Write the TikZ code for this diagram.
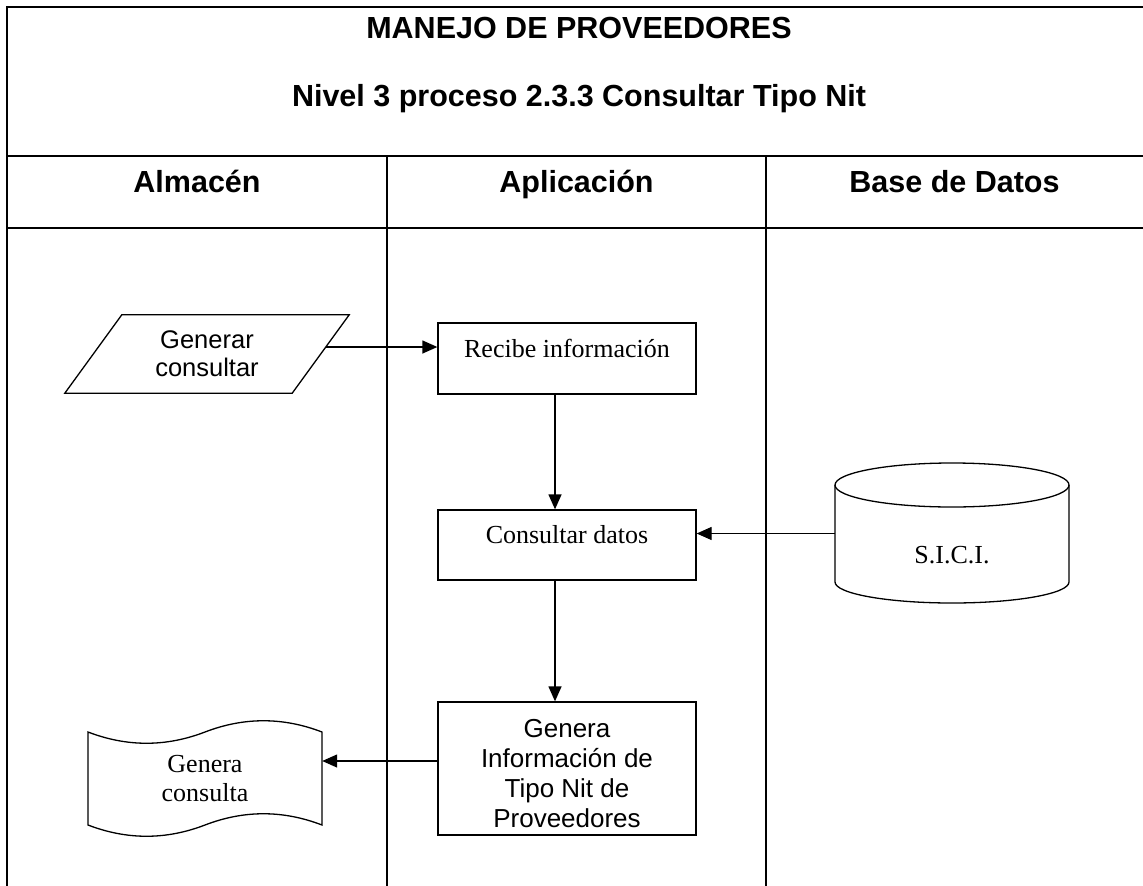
\documentclass[tikz,border=0pt]{standalone}
\usepackage{fontspec}
\setmainfont{Liberation Serif}
\newfontfamily\arialf{Liberation Sans}
\usetikzlibrary{arrows.meta}
\begin{document}
\begin{tikzpicture}[x=1pt,y=1pt,
  frameline/.style={line width=2.5pt},
  laneline/.style={line width=1.9pt},
  arr/.style={line width=1.3pt, -{Triangle[length=15pt,width=13pt]}},
  ttl/.style={font=\arialf\bfseries\fontsize{30.5}{36}\selectfont, anchor=base, inner sep=0pt},
  procbox/.style={draw, line width=1.3pt, minimum width=258pt, inner sep=0pt, align=center},
  serif26/.style={font=\fontsize{26}{29}\selectfont},
  sans26/.style={font=\arialf\fontsize{26}{30}\selectfont},
  topline/.style={text height=18pt, text depth=21pt},
  shapebody/.style={inner sep=0pt, align=center}
]
\useasboundingbox (0,0) rectangle (1143,-886);
\clip (0,0) rectangle (1143,-886);
\fill[white] (0,0) rectangle (1143,-886);

% table frame
\draw[frameline] (1160,-7) -- (7,-7) -- (7,-900);
\draw[frameline] (7,-156) -- (1160,-156);
\draw[frameline] (7,-228) -- (1160,-228);
\draw[laneline] (387,-156) -- (387,-900);
\draw[laneline] (766,-156) -- (766,-900);

% titles
\node[ttl] (t1) at (579,-38) {MANEJO DE PROVEEDORES};
\node[ttl] (t2) at (579,-106) {Nivel 3 proceso 2.3.3 Consultar Tipo Nit};
\node[ttl] (h1) at (197,-192) {Almacén};
\node[ttl] (h2) at (576.5,-192) {Aplicación};
\node[ttl] (h3) at (954.5,-192) {Base de Datos};

% process boxes
\node[procbox, serif26, topline, minimum height=71pt] (c1) at (567,-358.5) {Recibe información};
\node[procbox, serif26, topline, minimum height=70pt] (c2) at (567,-545) {Consultar datos};
\node[procbox, sans26, minimum height=133pt] (c3) at (567,-768.5) {\rule{0pt}{28pt}Genera\\Información de\\Tipo Nit de\\Proveedores};

% input parallelogram
\node[shapebody, font=\arialf\fontsize{25.5}{28}\selectfont, minimum width=227pt, minimum height=78pt] (gen) at (207,-354) {Generar\\consultar};
\draw[line width=1.3pt] ([xshift=28.5pt]gen.north west) -- ([xshift=28.5pt]gen.north east)
  -- ([xshift=-28.5pt]gen.south east) -- ([xshift=-28.5pt]gen.south west) -- cycle;

% database cylinder
\node[shapebody, serif26, minimum width=234pt, minimum height=97pt, text height=76pt, text depth=17pt] (db) at (952,-533.5) {S.I.C.I.};
\draw[line width=1.3pt] (952,-485) ellipse [x radius=117, y radius=22];
\draw[line width=1.3pt] (835,-485) -- (835,-582)
  arc[start angle=180, end angle=360, x radius=117, y radius=21] -- (1069,-485);

% document (tape) output
\node[shapebody, serif26, minimum width=234pt, minimum height=93pt] (doc) at (205,-778.5) {Genera\\consulta};
\draw[line width=1.3pt] (88,-732) .. controls (127,-747) and (166,-747) .. (205,-732)
  .. controls (244,-717) and (283,-717) .. (322,-732)
  -- (322,-825) .. controls (283,-810) and (244,-810) .. (205,-825)
  .. controls (166,-840) and (127,-840) .. (88,-825) -- cycle;

% connectors
\draw[arr] ([shift={(5pt,7pt)}]gen.east) -- ([yshift=7pt]gen.east -| c1.west);
\draw[arr] ([xshift=-12pt]c1.south) -- ([xshift=-12pt]c2.north);
\draw[arr] (db.west) -- (db.west -| c2.east);
\draw[arr] ([xshift=-12pt]c2.south) -- ([xshift=-12pt]c3.north);
\draw[arr] ([yshift=7.5pt]c3.west) -- ([yshift=7.5pt]c3.west -| doc.east);
\end{tikzpicture}
\end{document}
